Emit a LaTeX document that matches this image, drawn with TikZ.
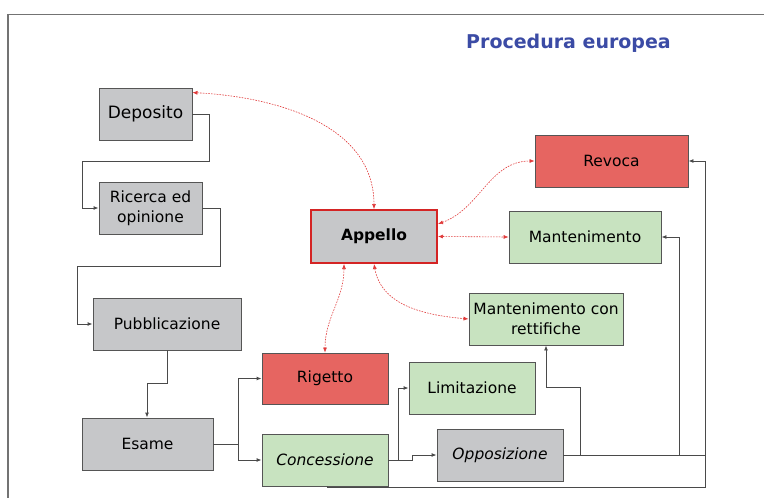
\documentclass[tikz,border=0pt]{standalone}
\usepackage{fontspec}
\setmainfont{DejaVu Sans}
\usetikzlibrary{arrows.meta}
\definecolor{boxgray}{HTML}{C6C7C9}
\definecolor{boxred}{HTML}{E66561}
\definecolor{boxgreen}{HTML}{C8E3C0}
\definecolor{edgegray}{HTML}{555555}
\definecolor{linkgray}{HTML}{4A4A4A}
\definecolor{apred}{HTML}{D42424}
\definecolor{curvered}{HTML}{E03A3A}
\definecolor{titleblue}{HTML}{3B4BA5}
\definecolor{framegray}{HTML}{737373}
\tikzset{
  basebox/.style={draw=edgegray, line width=0.9pt, inner sep=0pt, minimum height=52pt,
    font=\fontsize{15.5}{20}\selectfont, align=center, text=black},
  graybox/.style={basebox, fill=boxgray},
  redbox/.style={basebox, fill=boxred},
  greenbox/.style={basebox, fill=boxgreen},
  flow/.style={draw=linkgray, line width=0.9pt, -{Latex[length=5pt,width=4pt]}},
  plainflow/.style={draw=linkgray, line width=0.9pt},
  redlink/.style={draw=curvered, line width=0.6pt, dash pattern=on 1.6pt off 1.2pt,
    {Latex[length=5pt,width=4pt]}-{Latex[length=5pt,width=4pt]}},
}
\begin{document}
\begin{tikzpicture}[x=1pt,y=-1pt]
\useasboundingbox (0,0) rectangle (764,498);
% frame
\draw[framegray, line width=1.5pt] (8,498) -- (8,14.7) -- (764,14.7);
% title
\node[anchor=base, text=titleblue, font=\fontsize{19}{22}\selectfont\bfseries] (title) at (568.5,48) {Procedura europea};
% boxes
\node[graybox, minimum width=93pt, font=\fontsize{17}{20}\selectfont] (dep) at (145.5,114) {Deposito};
\node[graybox, minimum width=103pt] (ric) at (150.5,208) {Ricerca ed\\opinione};
\node[graybox, minimum width=148pt] (pub) at (167,324) {Pubblicazione};
\node[graybox, minimum width=131pt] (esa) at (147.5,444) {Esame};
\node[redbox, minimum width=126pt, minimum height=51pt] (rig) at (325,378.5) {Rigetto};
\node[greenbox, minimum width=126pt] (con) at (325,460) {\itshape Concessione};
\node[greenbox, minimum width=126pt] (lim) at (472,388) {Limitazione};
\node[graybox, minimum width=126pt] (opp) at (500,455) {\itshape Opposizione};
\node[graybox, draw=apred, line width=2pt, minimum width=126pt, minimum height=53pt,
  font=\fontsize{15.5}{20}\selectfont\bfseries] (app) at (374,236.5) {Appello};
\node[redbox, minimum width=153pt] (rev) at (611.5,161) {Revoca};
\node[greenbox, minimum width=152pt] (man) at (585,237) {Mantenimento};
\node[greenbox, minimum width=154pt] (ret) at (546,319) {Mantenimento con\\rettifiche};
% junction coordinates
\coordinate (j1) at (209,114);
\coordinate (j2) at (209,161);
\coordinate (j3) at (82,161);
\coordinate (j4) at (220,208);
\coordinate (j5) at (220,266);
\coordinate (j6) at (77,266);
\coordinate (j7) at (167,383);
\coordinate (j8) at (147,383);
\coordinate (ej) at (238,444);
\coordinate (cj) at (398,460);
\coordinate (cj2) at (412,460);
\coordinate (cj3) at (412,455);
\coordinate (oj1) at (580,455);
\coordinate (oj2) at (580,387);
\coordinate (oj3) at (546,387);
\coordinate (oj4) at (679,455);
\coordinate (oj5) at (705,455);
\coordinate (bj1) at (327,487);
\coordinate (bj2) at (705,487);
% black connectors
\draw[flow] (dep.east) -- (j1) -- (j2) -- (j3) -- (j3 |- ric.west) -- (ric.west);
\draw[flow] (ric.east) -- (j4) -- (j5) -- (j6) -- (j6 |- pub.west) -- (pub.west);
\draw[flow] (pub.south -| j7) -- (j7) -- (j8) -- (j8 |- esa.north);
\draw[flow] (esa.east) -- (ej) -- (ej |- rig.west) -- (rig.west);
\draw[flow] (ej) -- (ej |- con.west) -- (con.west);
\draw[flow] (con.east) -- (cj) -- (cj |- lim.west) -- (lim.west);
\draw[flow] (cj) -- (cj2) -- (cj3) -- (opp.west);
\draw[flow] (opp.east) -- (oj4) -- (oj4 |- man.east) -- (man.east);
\draw[flow] (oj1) -- (oj2) -- (oj3) -- (ret.south);
\draw[plainflow] (oj4) -- (oj5);
\draw[plainflow] (con.south -| bj1) -- (bj1) -- (bj2) -- (oj5);
\draw[flow] (oj5) -- (oj5 |- rev.east) -- (rev.east);
% red curved links
\draw[redlink] ([yshift=-5pt]dep.north east) to[out=-3,in=90] (app.north);
\draw[redlink] ([yshift=-15pt]app.north east) to[out=20,in=180] (rev.west);
\draw[redlink] (app.east) -- (man.west);
\draw[redlink] (app.south) to[out=-80,in=175] (ret.west);
\draw[redlink] ([xshift=-30pt]app.south) to[out=-90,in=90] (rig.north);
\end{tikzpicture}
\end{document}
